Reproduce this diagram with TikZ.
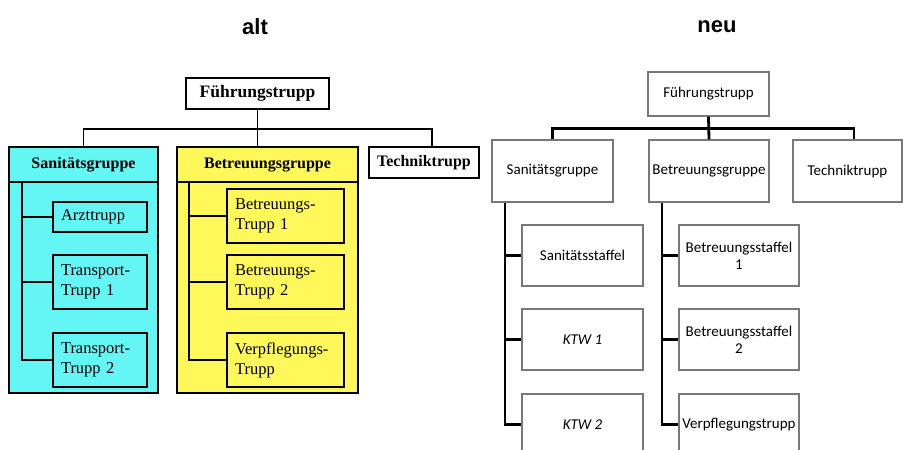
\documentclass[tikz,border=0pt]{standalone}
\usepackage{fontspec}
\setmainfont{Liberation Serif}
\newfontfamily\calfont{Carlito}
\newfontfamily\arialfont{Liberation Sans}
\usetikzlibrary{shadows}
\definecolor{altcyan}{RGB}{100,245,245}
\definecolor{altyellow}{RGB}{255,248,90}
\definecolor{neugray}{RGB}{120,120,120}

\begin{document}
\begin{tikzpicture}[x=1pt,y=-1pt,
	alt/.style={draw, line width=1.8pt, inner sep=0pt, font=\fontsize{16.5}{20}\selectfont},
	altbox/.style={alt, fill=white, minimum width=#1, minimum height=31pt, font=\fontsize{16}{20}\selectfont\bfseries},
	altsub/.style={alt, text width=#1, inner xsep=8pt, align=left, minimum height=54pt},
	altgroup/.style={alt, minimum width=#1, minimum height=246pt},
	alttitle/.style={font=\fontsize{16}{20}\selectfont\bfseries},
	altline/.style={line width=1.8pt},
	neu/.style={draw=neugray, line width=1.2pt, fill=white, minimum width=#1, minimum height=61pt,
		inner sep=1pt, align=center, font=\calfont\fontsize{15}{17}\selectfont,
		drop shadow={shadow xshift=1pt, shadow yshift=-1pt, opacity=.25}},
	neuline/.style={line width=2.8pt},
	heading/.style={font=\arialfont\bfseries\fontsize{22}{26}\selectfont}]

	\useasboundingbox (0,0) rectangle (903,450);
	\clip (0,0) rectangle (903,450);

	% headings
	\node[heading] (altlab) at (255,27) {alt};
	\node[heading] (neulab) at (717,27) {neu};

	% alt
	\node[altbox=143pt, font=\fontsize{17.5}{20}\selectfont\bfseries] (fa) at (257.5,93.5) {Führungstrupp};
	\node[altgroup=149pt, fill=altcyan] (sg) at (83.5,270) {};
	\node[altgroup=181pt, fill=altyellow] (bg) at (267.5,270) {};
	\node[altbox=110pt] (tt) at (424,162.5) {Techniktrupp};
	\node[alttitle] (sgl) at (83.5,165) {Sanitätsgruppe};
	\node[alttitle] (bgl) at (267.5,165) {Betreuungsgruppe};
	\draw[altline] ([yshift=-36pt]sg.north west) -- ([yshift=-36pt]sg.north east);
	\draw[altline] ([yshift=-36pt]bg.north west) -- ([yshift=-36pt]bg.north east);

	\node[altsub=78pt, minimum height=30pt] (az) at (100,217) {Arzttrupp};
	\node[altsub=78pt] (st1) at (100,282) {Transport-\\Trupp 1};
	\node[altsub=78pt] (st2) at (100,360) {Transport-\\Trupp 2};
	\node[altsub=101pt] (bt1) at (285.5,216) {Betreuungs-\\Trupp 1};
	\node[altsub=101pt] (bt2) at (285.5,282) {Betreuungs-\\Trupp 2};
	\node[altsub=101pt] (vt) at (285.5,360) {Verpflegungs-\\Trupp};

	\draw[altline] (fa.south) -- (fa.south |- bg.north);
	\draw[altline] (sg.north) -- ++(0,-17) -| ([xshift=8pt]tt.north);
	\coordinate (sgv) at ([xshift=14pt,yshift=-36pt]sg.north west);
	\coordinate (bgv) at ([xshift=13pt,yshift=-36pt]bg.north west);
	\draw[altline] (sgv) |- (st2.west);
	\draw[altline] (sgv |- az.west) -- (az.west);
	\draw[altline] (sgv |- st1.west) -- (st1.west);
	\draw[altline] (bgv) |- (vt.west);
	\draw[altline] (bgv |- bt1.west) -- (bt1.west);
	\draw[altline] (bgv |- bt2.west) -- (bt2.west);

	% neu
	\node[neu=121pt, minimum height=44pt] (fn) at (708.5,94) {Führungstrupp};
	\node[neu=121pt, minimum height=62pt] (sn) at (552.5,171) {Sanitätsgruppe};
	\node[neu=120pt, minimum height=62pt] (bn) at (709,171) {Betreuungsgruppe};
	\node[neu=109pt, minimum height=62pt] (tn) at (847.5,171) {Techniktrupp};

	\node[neu=121pt] (ss) at (582.5,255.5) {Sanitätsstaffel};
	\node[neu=121pt] (k1) at (582.5,339.5) {\itshape KTW 1};
	\node[neu=121pt] (k2) at (582.5,424.5) {\itshape KTW 2};
	\node[neu=120pt] (bs1) at (739,255.5) {Betreuungsstaffel\\1};
	\node[neu=120pt] (bs2) at (739,339.5) {Betreuungsstaffel\\2};
	\node[neu=120pt] (vn) at (739,424.5) {Verpflegungstrupp};

	\draw[neuline] (fn.south) -- (bn.north);
	\draw[neuline] (sn.north) -- ++(0,-11) -| ([xshift=6.5pt]tn.north);
	\coordinate (snv) at ([xshift=-47.5pt]sn.south);
	\coordinate (bnv) at ([xshift=-47pt]bn.south);
	\draw[neuline] (snv) |- (k2.west);
	\draw[neuline] (snv |- ss.west) -- (ss.west);
	\draw[neuline] (snv |- k1.west) -- (k1.west);
	\draw[neuline] (bnv) |- (vn.west);
	\draw[neuline] (bnv |- bs1.west) -- (bs1.west);
	\draw[neuline] (bnv |- bs2.west) -- (bs2.west);
\end{tikzpicture}
\end{document}
